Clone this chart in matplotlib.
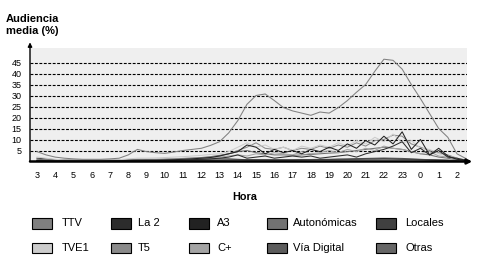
import numpy as np
import matplotlib
matplotlib.use("Agg")
import matplotlib.pyplot as plt
from matplotlib.patches import Rectangle

plt.rcParams['font.family'] = ['Liberation Sans', 'DejaVu Sans']

# time grid: half-hour steps starting at 3:00 (index 0) to 2:30 next day
hour_labels = ["3", "4", "5", "6", "7", "8", "9", "10", "11", "12", "13", "14",
               "15", "16", "17", "18", "19", "20", "21", "22", "23", "0", "1", "2"]
y_ticks = [5, 10, 15, 20, 25, 30, 35, 40, 45]

ttv = [4.5, 3.0, 2.0, 1.5, 1.2, 1.0, 1.0, 1.0, 1.2, 1.5, 3.0, 5.5, 4.5, 4.0, 3.7, 4.3,
       5.0, 5.5, 6.0, 7.3, 9.0, 13.0, 18.6, 26.0, 30.0, 30.7, 27.7, 24.5, 23.0, 22.0,
       21.0, 22.5, 22.0, 24.5, 27.7, 31.5, 35.0, 41.0, 46.5, 46.0, 42.0, 35.0, 28.6,
       21.8, 15.0, 11.0, 3.5, 1.3]
tve1 = [2.0, 1.5, 1.0, 0.7, 0.5, 0.5, 0.5, 0.5, 0.6, 0.8, 1.2, 1.5, 1.5, 1.6, 1.8, 2.0,
        2.2, 2.5, 2.8, 3.2, 3.5, 4.5, 6.5, 8.5, 6.5, 7.5, 5.5, 6.5, 5.0, 7.0, 6.0, 7.5,
        6.5, 8.5, 7.0, 9.5, 8.0, 11.0, 9.0, 12.5, 8.5, 9.5, 6.0, 5.5, 3.5, 2.5, 1.5, 0.8]
la2 = [0.3, 0.2, 0.2, 0.2, 0.2, 0.2, 0.2, 0.2, 0.2, 0.3, 0.3, 0.4, 0.5, 0.5, 0.5, 0.6,
       0.7, 0.8, 1.0, 1.2, 1.5, 2.0, 3.0, 1.5, 2.0, 2.5, 1.5, 2.0, 2.5, 2.0, 2.5, 1.5,
       2.0, 2.5, 3.0, 2.0, 3.5, 4.5, 5.5, 7.0, 9.0, 4.0, 6.0, 3.0, 5.0, 2.0, 1.5, 0.5]
a3 = [0.3, 0.3, 0.2, 0.2, 0.2, 0.2, 0.2, 0.2, 0.3, 0.3, 0.5, 0.6, 0.6, 0.6, 0.7, 0.8,
      1.0, 1.2, 1.5, 1.8, 2.5, 3.5, 4.5, 7.5, 6.5, 3.5, 5.5, 4.0, 5.0, 3.5, 5.5, 4.5,
      6.5, 5.0, 8.0, 6.0, 9.5, 7.5, 11.5, 8.0, 13.5, 5.5, 10.0, 3.0, 6.0, 2.5, 1.0, 0.5]
t5 = [0.5, 0.4, 0.3, 0.3, 0.3, 0.3, 0.3, 0.3, 0.4, 0.5, 0.6, 0.8, 0.8, 0.8, 0.9, 1.0,
      1.2, 1.4, 1.6, 2.0, 2.5, 3.5, 5.0, 6.5, 8.5, 6.0, 5.5, 6.5, 5.0, 6.0, 5.5, 7.0,
      6.0, 7.5, 6.5, 8.5, 7.0, 9.5, 10.0, 12.0, 11.5, 8.0, 6.5, 5.0, 4.0, 3.0, 1.5, 0.6]
cplus = [0.4, 0.4, 0.3, 0.3, 0.3, 0.3, 0.3, 0.3, 0.3, 0.4, 0.5, 0.6, 0.7, 0.7, 0.8, 0.9,
         1.0, 1.2, 1.4, 1.6, 2.0, 2.5, 3.0, 2.5, 3.5, 3.0, 4.0, 3.5, 3.0, 4.5, 3.5, 4.0,
         5.0, 4.0, 5.5, 4.5, 6.0, 5.0, 7.0, 6.0, 5.5, 4.5, 3.5, 4.5, 2.5, 2.0, 1.0, 0.5]
autonomicas = [1.0, 0.8, 0.6, 0.5, 0.5, 0.5, 0.5, 0.5, 0.5, 0.6, 0.8, 1.0, 1.0, 1.0, 1.1,
               1.2, 1.4, 1.6, 1.8, 2.2, 2.8, 3.5, 4.5, 5.0, 4.0, 3.5, 3.0, 3.0, 2.8, 3.0,
               3.2, 3.5, 3.8, 4.0, 4.5, 5.0, 5.5, 6.0, 6.5, 6.0, 5.5, 4.5, 3.5, 3.0, 2.0,
               1.5, 0.8, 0.4]
via_digital = [0.2, 0.2, 0.2, 0.2, 0.2, 0.2, 0.2, 0.2, 0.2, 0.2, 0.2, 0.3, 0.3, 0.3, 0.3,
               0.3, 0.4, 0.4, 0.5, 0.5, 0.6, 0.7, 0.8, 0.8, 0.9, 0.9, 0.8, 0.8, 0.8, 0.9,
               0.9, 1.0, 1.0, 1.1, 1.2, 1.3, 1.4, 1.5, 1.6, 1.5, 1.4, 1.2, 1.0, 0.8, 0.6,
               0.5, 0.3, 0.2]
locales = [1.5, 1.2, 0.8, 0.7, 0.6, 0.6, 0.6, 0.6, 0.6, 0.6, 0.6, 0.7, 0.7, 0.7, 0.8, 0.8,
           0.9, 1.0, 1.0, 1.1, 1.2, 1.2, 1.0, 0.8, 0.7, 0.7, 0.7, 0.7, 0.7, 0.8, 0.8, 0.9,
           0.9, 1.0, 1.0, 1.1, 1.2, 1.2, 1.3, 1.2, 1.1, 1.0, 0.9, 0.8, 0.7, 0.6, 0.5, 0.4]
otras = [0.4, 0.4, 0.3, 0.3, 0.3, 0.3, 0.3, 0.3, 0.3, 0.3, 0.4, 0.4, 0.4, 0.4, 0.5, 0.5,
         0.5, 0.5, 0.6, 0.6, 0.6, 0.7, 0.7, 0.7, 0.7, 0.7, 0.7, 0.7, 0.7, 0.7, 0.8, 0.8,
         0.8, 0.8, 0.9, 0.9, 1.0, 1.0, 1.0, 1.0, 0.9, 0.9, 0.8, 0.7, 0.6, 0.5, 0.4, 0.3]

series_names = ["TTV", "La 2", "A3", "Autonómicas", "Locales",
                "TVE1", "T5", "C+", "Vía Digital", "Otras"]
series_values = [ttv, la2, a3, autonomicas, locales, tve1, t5, cplus, via_digital, otras]
series_colors = ["#808080", "#2c2c2c", "#222222", "#727272", "#404040",
                 "#cccccc", "#8a8a8a", "#a4a4a4", "#5c5c5c", "#666666"]

W, H = 483, 272
fig = plt.figure(figsize=(W / 100, H / 100), dpi=100)
ax = fig.add_axes([30 / W, (H - 161.5) / H, 437 / W, 113.5 / H])
ax.set_facecolor("#efefef")

t = np.arange(len(ttv)) * 0.5
draw_order = [9, 8, 4, 3, 7, 6, 5, 1, 2, 0]
for i in draw_order:
    ax.plot(t, series_values[i], color=series_colors[i], lw=0.75, zorder=3)

for yv in y_ticks:
    ax.axhline(yv, color="black", lw=0.8, dashes=(2.6, 1.4), zorder=2)

ax.set_xlim(-0.38, 23.55)
ax.set_ylim(0, 51.6)
ax.set_yticks(y_ticks)
ax.set_yticklabels([str(v) for v in y_ticks])
ax.set_xticks(range(len(hour_labels)))
ax.set_xticklabels(hour_labels)
ax.tick_params(axis='both', length=0, labelsize=6.5, colors="black")
ax.tick_params(axis='y', pad=6)
ax.tick_params(axis='x', pad=7)
for s in ax.spines.values():
    s.set_visible(False)

# axes with arrows
ax.annotate('', xy=(1.012, 0), xytext=(0, 0), xycoords='axes fraction',
            arrowprops=dict(arrowstyle='-|>', color='black', lw=1.8,
                            mutation_scale=7, shrinkA=0, shrinkB=0), zorder=5)
ax.annotate('', xy=(0, 1.05), xytext=(0, 0), xycoords='axes fraction',
            arrowprops=dict(arrowstyle='-|>', color='black', lw=1.0,
                            mutation_scale=6, shrinkA=0, shrinkB=0), zorder=5)

def fx(x):
    return x / W

def fy(y):
    return 1 - y / H

fig.text(fx(6), fy(22.5), "Audiencia", fontsize=8.0, fontweight='bold', va='baseline')
fig.text(fx(6), fy(34.5), "media (%)", fontsize=8.0, fontweight='bold', va='baseline')
fig.text(fx(245), fy(197.5), "Hora", fontsize=7.8, fontweight='bold',
         ha='center', va='center')

# legend
col_box_x = [32, 111, 189, 267, 376]
col_text_x = [62, 138, 217, 293, 405]
row_box_y = [218, 242.5]
for k, name in enumerate(series_names):
    r, c = divmod(k, 5)
    bx, by = col_box_x[c], row_box_y[r]
    fig.patches.append(Rectangle((fx(bx), fy(by + 10.5)), 20 / W, 10.5 / H,
                                 transform=fig.transFigure, facecolor=series_colors[k],
                                 edgecolor='black', lw=0.8))
    fig.text(fx(col_text_x[c]), fy(by + 5.5), name, fontsize=8.0, va='center',
             ha='left')

fig.savefig("out.png", dpi=100, facecolor="white")
